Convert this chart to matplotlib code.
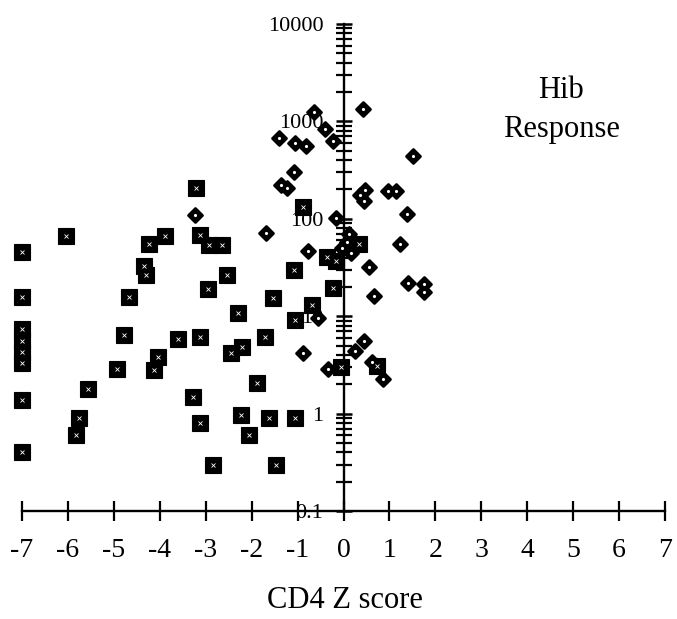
import matplotlib
matplotlib.use('Agg')
import matplotlib.pyplot as plt
from matplotlib.markers import MarkerStyle
from matplotlib.ticker import LogLocator, NullFormatter

plt.rcParams['font.family'] = ['Liberation Serif', 'DejaVu Serif']

# Данные: квадраты (левая группа) и ромбы
sq_x = [-7, -7, -7, -7, -7, -7, -7, -7,
        -6.05, -5.75, -5.82, -5.57, -4.94, -4.77, -4.66, -4.35, -4.30, -4.23,
        -3.88, -4.12, -4.04, -3.60, -3.21, -3.27, -3.12, -3.12, -3.12, -2.93,
        -2.65, -2.95, -2.85, -2.53, -2.46, -2.29, -2.22, -2.23, -2.06, -1.89,
        -1.71, -1.54, -1.62, -1.47, -1.08, -1.05, -1.05, -0.89, -0.68, -0.37,
        -0.23, -0.16, -0.05, 0.33, 0.72]
sq_y = [46, 15.7, 7.4, 5.6, 4.3, 3.3, 1.37, 0.40,
        66, 0.90, 0.60, 1.79, 2.86, 6.4, 15.7, 32.5, 26.4, 55,
        66, 2.8, 3.8, 5.9, 206, 1.48, 6.1, 0.80, 68, 54,
        54, 19, 0.30, 26.4, 4.2, 10.8, 4.8, 0.97, 0.60, 2.06,
        6.1, 15.3, 0.90, 0.30, 29.6, 9.1, 0.90, 132, 13, 41,
        19.5, 36.8, 3.0, 55, 3.1]

dm_x = [-3.23, -1.68, -1.40, -1.05, -0.82, -0.64, -0.40, -0.23, -1.08, -1.36,
        -1.22, -0.78, -0.56, -0.89, -0.33, -0.16, 0.11, 0.07, -0.04, 0.17,
        0.42, 0.36, 0.47, 0.45, 0.96, 1.15, 1.52, 1.38, 1.23, 0.55,
        1.40, 1.76, 1.75, 0.67, 0.45, 0.25, 0.61, 0.87]
dm_y = [109, 71, 670, 598, 555, 1250, 832, 627, 303, 222,
        207, 47, 9.5, 4.2, 2.9, 101, 70, 58, 50, 45,
        1336, 175, 198, 152, 192, 192, 442, 111, 55, 32,
        22, 21.5, 17.8, 16, 5.6, 4.4, 3.4, 2.25]

x_ticks = list(range(-7, 8))
x_labels = [str(v) for v in x_ticks]
y_ticks = [0.1, 1, 10, 100, 1000, 10000]
y_labels = ['0.1', '1', '10', '100', '1000', '10000']

fig = plt.figure(figsize=(6.77, 6.19), dpi=100)
ax = fig.add_axes([22 / 677, (619 - 511) / 619, 643 / 677, 487 / 619])
ax.set_yscale('log')
ax.set_xlim(-7, 7)
ax.set_ylim(0.1, 10000)

# Оси крестом: вертикальная ось проходит через x = 0
ax.spines['left'].set_position(('data', 0))
ax.spines['right'].set_visible(False)
ax.spines['top'].set_visible(False)
for s in ('left', 'bottom'):
    ax.spines[s].set_linewidth(1.7)

ax.set_xticks(x_ticks, x_labels)
ax.set_yticks(y_ticks, y_labels)
ax.yaxis.set_minor_locator(LogLocator(base=10, subs=range(2, 10)))
ax.yaxis.set_minor_formatter(NullFormatter())
ax.tick_params(axis='x', direction='inout', length=15, width=1.6,
               labelsize=20, pad=12)
ax.tick_params(axis='y', which='major', direction='inout', length=12,
               width=1.8, labelsize=16, pad=8.5)
ax.tick_params(axis='y', which='minor', direction='inout', length=11,
               width=1.6)

# Квадраты с мелким белым узором внутри
ax.plot(sq_x, sq_y, linestyle='none', marker='s', markersize=11,
        markerfacecolor='black', markeredgecolor='black', markeredgewidth=0.8,
        clip_on=False, zorder=3)
ax.plot(sq_x, sq_y, linestyle='none', marker='x', markersize=3.2,
        markeredgecolor='white', markeredgewidth=0.6, clip_on=False, zorder=4)

# Ромбы со скруглёнными углами
ax.plot(dm_x, dm_y, linestyle='none', marker=MarkerStyle('D', joinstyle='round'),
        markersize=7.2, markerfacecolor='black', markeredgecolor='black',
        markeredgewidth=2.0, clip_on=False, zorder=3)
ax.plot(dm_x, dm_y, linestyle='none', marker='.', markersize=2.5,
        markeredgecolor='white', markerfacecolor='white', zorder=4)

fig.text(345 / 677, 1 - 600 / 619, 'CD4 Z score', ha='center', va='center',
         fontsize=22)
fig.text(561 / 677, 1 - 90 / 619, 'Hib', ha='center', va='center', fontsize=22)
fig.text(562 / 677, 1 - 130 / 619, 'Response', ha='center', va='center',
         fontsize=22)

plt.savefig('out.png', dpi=100)
